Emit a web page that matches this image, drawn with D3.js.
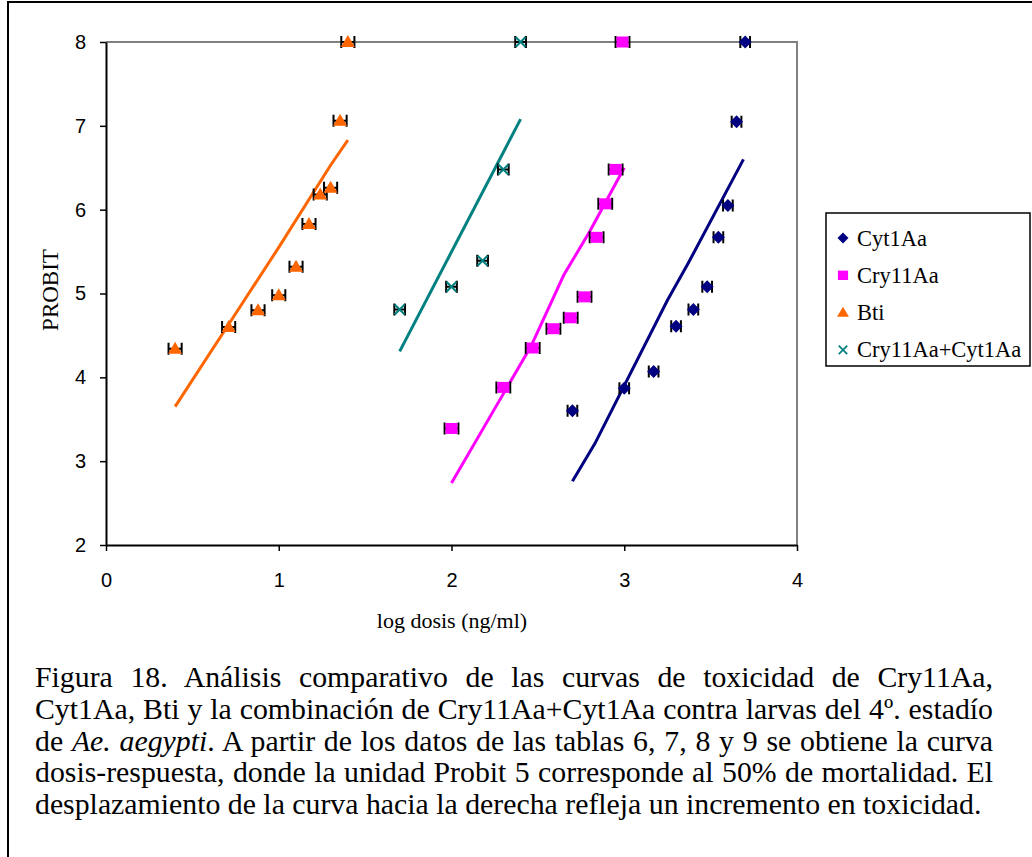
<!DOCTYPE html>
<html>
<head>
<meta charset="utf-8">
<script src="https://cdn.jsdelivr.net/npm/d3@7"></script>
<style>
  body { margin: 0; background: #fff; }
  svg { display: block; }
</style>
</head>
<body>
<svg id="chart" width="1032" height="857"></svg>
<script>
// values (x = log dosis, y = probit)
const seriesNames = ["Cyt1Aa", "Cry11Aa", "Bti", "Cry11Aa+Cyt1Aa"];

const cytX = [2.70, 3.00, 3.17, 3.30, 3.40, 3.48, 3.545, 3.60, 3.65, 3.70];
const cytY = [3.60, 3.87, 4.07, 4.61, 4.81, 5.08, 5.67, 6.05, 7.05, 8.00];
const cytFitX = [2.70, 2.83, 3.25, 3.37, 3.69];
const cytFitY = [2.76, 3.21, 4.92, 5.36, 6.60];

const cryX = [2.00, 2.30, 2.47, 2.59, 2.69, 2.77, 2.84, 2.89, 2.95, 2.99];
const cryY = [3.39, 3.88, 4.35, 4.58, 4.71, 4.96, 5.67, 6.07, 6.48, 8.00];
const cryFitX = [2.00, 2.46, 2.65, 2.80, 3.00];
const cryFitY = [2.74, 4.37, 5.22, 5.74, 6.50];

const btiX = [0.40, 0.71, 0.88, 1.00, 1.10, 1.175, 1.24, 1.30, 1.355, 1.40];
const btiY = [4.34, 4.60, 4.80, 4.98, 5.32, 5.83, 6.18, 6.26, 7.06, 8.00];
const btiFitX = [0.40, 0.70, 1.00, 1.30, 1.40];
const btiFitY = [3.65, 4.60, 5.55, 6.53, 6.83];

const mixX = [1.70, 2.00, 2.18, 2.30, 2.40];
const mixY = [4.81, 5.08, 5.39, 6.48, 8.00];
const mixFitX = [1.70, 2.40];
const mixFitY = [4.31, 7.08];

// half width of the horizontal error bars, log units
const errHalf = [0.028, 0.04, 0.038, 0.031];

const xTicks = [0, 1, 2, 3, 4];
const yTicks = [2, 3, 4, 5, 6, 7, 8];

const captionLines = [
  "Figura 18. Análisis comparativo de las curvas de toxicidad de Cry11Aa,",
  "Cyt1Aa, Bti y la combinación de Cry11Aa+Cyt1Aa contra larvas del 4º. estadío",
  "de |Ae. aegypti|. A partir de los datos de las tablas 6, 7, 8 y 9 se obtiene la curva",
  "dosis-respuesta, donde la unidad Probit 5 corresponde al 50% de mortalidad. El",
  "desplazamiento de la curva hacia la derecha refleja un incremento en toxicidad."
];

const colors = ["#000080", "#ff00ff", "#ff6600", "#008080"];
const shapes = ["diamond", "square", "triangle", "cross"];

const serif = "'Liberation Serif', 'Times New Roman', serif";

const zip = (xs, ys) => xs.map((x, i) => ({ x, y: ys[i] }));
const series = [
  { pts: zip(cytX, cytY), fit: zip(cytFitX, cytFitY) },
  { pts: zip(cryX, cryY), fit: zip(cryFitX, cryFitY) },
  { pts: zip(btiX, btiY), fit: zip(btiFitX, btiFitY) },
  { pts: zip(mixX, mixY), fit: zip(mixFitX, mixFitY) }
];

const svg = d3.select("#chart");

// outer frame (only top and left edges show)
svg.append("path")
  .attr("d", "M8,857 V2 H1032")
  .attr("fill", "none")
  .attr("stroke", "#000")
  .attr("stroke-width", 2);

const x = d3.scaleLinear().domain([0, 4]).range([106, 797]);
const y = d3.scaleLinear().domain([2, 8]).range([545, 42]);

// plot border top/right in grey
svg.append("path")
  .attr("d", `M${x(0)},${y(8)} H${x(4)} V${y(2)}`)
  .attr("fill", "none")
  .attr("stroke", "#808080")
  .attr("stroke-width", 2);

const xAxis = svg.append("g")
  .attr("transform", `translate(0,${y(2)})`)
  .call(d3.axisBottom(x).tickValues(xTicks).tickFormat(d3.format("d"))
    .tickSize(6).tickPadding(22).tickSizeOuter(0));
const yAxis = svg.append("g")
  .attr("transform", `translate(${x(0)},0)`)
  .call(d3.axisLeft(y).tickValues(yTicks).tickFormat(d3.format("d"))
    .tickSize(6).tickPadding(14).tickSizeOuter(0));

[xAxis, yAxis].forEach((g) => {
  g.select(".domain").attr("stroke", "#000").attr("stroke-width", 2);
  g.selectAll(".tick line").attr("stroke", "#000").attr("stroke-width", 1.5);
  g.selectAll(".tick text")
    .attr("fill", "#000")
    .style("font-family", "'Liberation Sans', Arial, sans-serif")
    .style("font-size", "20px");
});

svg.append("text")
  .attr("x", 452).attr("y", 628)
  .attr("text-anchor", "middle")
  .style("font-family", serif)
  .style("font-size", "22px")
  .text("log dosis (ng/ml)");

svg.append("text")
  .attr("transform", "translate(58,290) rotate(-90)")
  .attr("text-anchor", "middle")
  .style("font-family", serif)
  .style("font-size", "23px")
  .text("PROBIT");

const line = d3.line().x((d) => x(d.x)).y((d) => y(d.y));

const markerPath = (shape) => {
  if (shape === "diamond") return "M0,-6.5 L6.5,0 L0,6.5 L-6.5,0 Z";
  if (shape === "square") return "M-6,-5.5 H6 V5.5 H-6 Z";
  if (shape === "triangle") return "M0,-7 L7,5 L-7,5 Z";
  return "M-5,-5 L5,5 M-5,5 L5,-5";
};

const drawMarker = (g, shape, color) => {
  const p = g.append("path").attr("d", markerPath(shape));
  if (shape === "cross") {
    p.attr("fill", "none").attr("stroke", color).attr("stroke-width", 2);
  } else {
    p.attr("fill", color);
  }
};

// fitted lines
series.forEach((s, i) => {
  svg.append("path")
    .datum(s.fit)
    .attr("d", line)
    .attr("fill", "none")
    .attr("stroke", colors[i])
    .attr("stroke-width", 3);
});

// error bars + markers
series.forEach((s, i) => {
  const e = errHalf[i];
  const g = svg.append("g");
  g.selectAll("path.err").data(s.pts).enter().append("path")
    .attr("class", "err")
    .attr("d", (d) => {
      const x0 = x(d.x - e), x1 = x(d.x + e), yy = y(d.y);
      return `M${x0},${yy} H${x1} M${x0},${yy - 6} V${yy + 6} M${x1},${yy - 6} V${yy + 6}`;
    })
    .attr("fill", "none")
    .attr("stroke", "#000")
    .attr("stroke-width", 2);
  g.selectAll("g.mk").data(s.pts).enter().append("g")
    .attr("class", "mk")
    .attr("transform", (d) => `translate(${x(d.x)},${y(d.y)})`)
    .each(function () { drawMarker(d3.select(this), shapes[i], colors[i]); });
});

// legend
const legend = svg.append("g");
legend.append("rect")
  .attr("x", 826).attr("y", 213).attr("width", 204).attr("height", 153)
  .attr("fill", "#fff").attr("stroke", "#000").attr("stroke-width", 1.5);
seriesNames.forEach((name, i) => {
  const ly = 238 + i * 37.3;
  const mg = legend.append("g").attr("transform", `translate(843,${ly})`);
  drawMarker(mg, shapes[i], colors[i]);
  mg.select("path").attr("transform", "scale(0.85)");
  legend.append("text")
    .attr("x", 857).attr("y", ly + 7.5)
    .style("font-family", serif)
    .style("font-size", "22.5px")
    .text(name);
});

// caption, justified manually
const capLeft = 35, capRight = 993;
captionLines.forEach((ln, i) => {
  const t = svg.append("text")
    .attr("x", capLeft).attr("y", 687 + i * 31.8)
    .style("font-family", serif)
    .style("font-size", "29.8px")
    .attr("fill", "#000");
  ln.split("|").forEach((part, k) => {
    t.append("tspan").style("font-style", k % 2 ? "italic" : "normal").text(part);
  });
  if (i < captionLines.length - 1) {
    const w = t.node().getComputedTextLength();
    const spaces = (ln.match(/ /g) || []).length;
    t.attr("word-spacing", (capRight - capLeft - w) / spaces);
  }
});
</script>
</body>
</html>
